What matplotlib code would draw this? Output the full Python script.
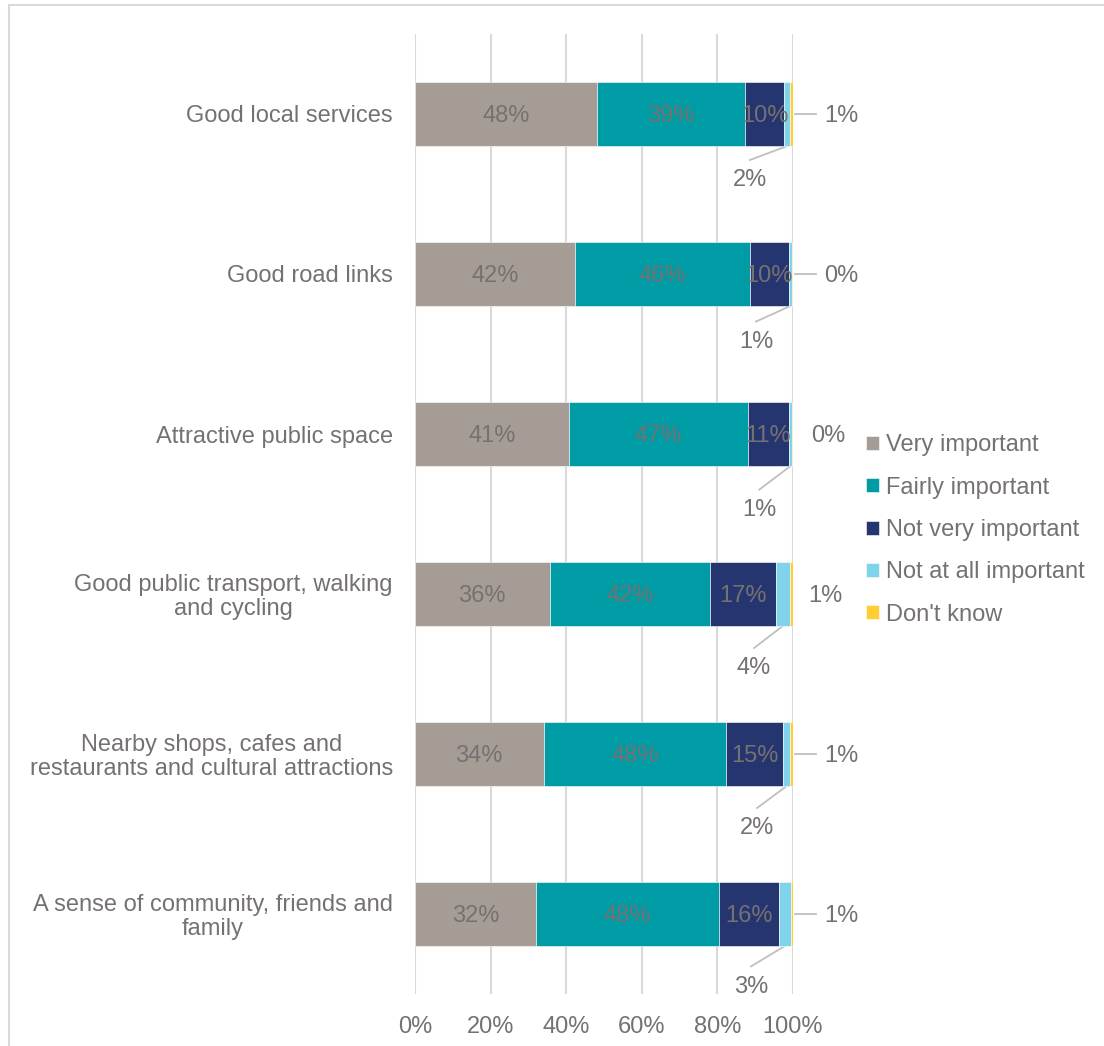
import matplotlib.pyplot as plt
from matplotlib.lines import Line2D
import numpy as np

plt.rcParams['font.family'] = ['Liberation Sans', 'DejaVu Sans']

# --- data (percent of respondents) ---
categories = [
    "Good local services",
    "Good road links",
    "Attractive public space",
    "Good public transport, walking\nand cycling",
    "Nearby shops, cafes and\nrestaurants and cultural attractions",
    "A sense of community, friends and\nfamily",
]
series_names = ["Very important", "Fairly important", "Not very important",
                "Not at all important", "Don't know"]
very_important = [48.1, 42.4, 40.8, 35.6, 34.0, 32.0]
fairly_important = [39.2, 46.2, 47.2, 42.4, 48.4, 48.4]
not_very_important = [10.4, 10.3, 11.0, 17.4, 15.0, 15.9]
not_at_all_important = [1.6, 0.8, 0.7, 3.8, 1.9, 3.1]
dont_know = [0.7, 0.3, 0.3, 0.8, 0.7, 0.6]
x_ticks = [0, 20, 40, 60, 80, 100]

# --- styling / label layout ---
colors = ["#A59D95", "#009CA6", "#253570", "#7FD3EA", "#FFCD34"]
text_col = "#767171"
grid_col = "#D9D9D9"
lead_col = "#BFBFBF"
fs = 17
# callout label positions (x in %, y offset below bar centre)
small_x = [88.6, 90.2, 91.1, 89.7, 90.5, 88.9]
small_dy = [0.40, 0.41, 0.46, 0.45, 0.45, 0.44]
dk_x = [112.9, 112.7, 109.4, 108.6, 112.7, 112.7]
dk_line = [True, True, False, False, True, True]

series = [very_important, fairly_important, not_very_important,
          not_at_all_important, dont_know]

fig = plt.figure(figsize=(11.04, 10.46), dpi=100)
ax = fig.add_axes([415 / 1104, 1 - 994 / 1046, 378 / 1104, 960 / 1046])

y = np.arange(len(categories))
left = np.zeros(len(categories))
for name, vals, col in zip(series_names, series, colors):
    vals = np.array(vals)
    ax.barh(y, vals, left=left, height=0.4, color=col, label=name,
            edgecolor='white', linewidth=0.4, zorder=3)
    left = left + vals

# data labels
left = np.zeros(len(categories))
for k, vals in enumerate(series):
    vals = np.array(vals)
    centers = left + vals / 2
    for i in range(len(categories)):
        lab = f"{vals[i]:.0f}%"
        if k < 3:
            ax.text(centers[i], y[i], lab, ha='center', va='center_baseline',
                    fontsize=fs, color=text_col, zorder=4)
        elif k == 3:
            ly = y[i] + small_dy[i]
            ax.text(small_x[i], ly, lab, ha='center', va='center_baseline',
                    fontsize=fs, color=text_col, clip_on=False)
            ax.plot([small_x[i], centers[i]], [ly - 0.1125, y[i] + 0.2],
                    color=lead_col, lw=1.3, zorder=2, clip_on=False)
        else:
            ax.text(dk_x[i], y[i], lab, ha='center', va='center_baseline',
                    fontsize=fs, color=text_col, clip_on=False)
            if dk_line[i]:
                ax.plot([100.4, dk_x[i] - 6.7], [y[i], y[i]],
                        color=lead_col, lw=1.3, zorder=2, clip_on=False)
    left = left + vals

ax.set_xlim(0, 100)
ax.set_ylim(len(categories) - 0.5, -0.5)
ax.set_xticks(x_ticks)
ax.set_xticklabels([f"{t}%" for t in x_ticks])
ax.set_yticks(y)
ax.set_yticklabels(categories, multialignment='center', linespacing=1.1)
ax.tick_params(axis='x', length=0, pad=16, labelsize=fs, labelcolor=text_col)
ax.tick_params(axis='y', length=0, pad=16, labelsize=fs, labelcolor=text_col)
ax.grid(axis='x', color=grid_col, linewidth=1.5, zorder=0)
for s in ax.spines.values():
    s.set_visible(False)

ax.legend(loc='center left', bbox_to_anchor=(866 / 1104, 1 - 530 / 1046),
          bbox_transform=fig.transFigure, frameon=False, fontsize=fs,
          labelcolor=text_col, handlelength=0.55, handleheight=0.55,
          handletextpad=0.3, labelspacing=0.86, borderpad=0, borderaxespad=0)

# chart area border (top and left edges visible)
fig.add_artist(Line2D([8.5 / 1104, 1], [1 - 4.5 / 1046, 1 - 4.5 / 1046],
                      color=grid_col, lw=1.5, transform=fig.transFigure))
fig.add_artist(Line2D([8.5 / 1104, 8.5 / 1104], [0, 1 - 4.5 / 1046],
                      color=grid_col, lw=1.5, transform=fig.transFigure))

fig.savefig("out.png", dpi=100, facecolor='white')
